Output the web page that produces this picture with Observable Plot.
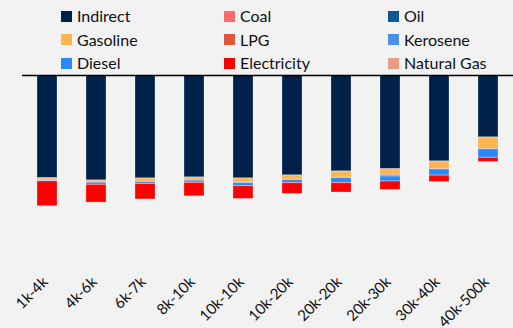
<!DOCTYPE html>
<html>
<head>
<meta charset="utf-8">
<script src="https://cdn.jsdelivr.net/npm/d3@7"></script>
<script src="https://cdn.jsdelivr.net/npm/@observablehq/plot@0.6"></script>
<style>
  html, body { margin: 0; padding: 0; background: #f2f2f2; }
  body { width: 513px; height: 328px; overflow: hidden; font-family: Lato, "Liberation Sans", sans-serif; }
  #legend { position: relative; height: 72px; }
  .item { position: absolute; display: flex; align-items: center; font-size: 16px; color: #111; line-height: 1; }
  .sw { width: 11px; height: 11px; margin-right: 5px; }
</style>
</head>
<body>
<div id="legend"></div>
<div id="chart"></div>
<script>
const categories = ["1k-4k", "4k-6k", "6k-7k", "8k-10k", "10k-10k", "10k-20k", "20k-20k", "20k-30k", "30k-40k", "40k-500k"];
const seriesNames = ["Indirect", "Coal", "Oil", "Gasoline", "LPG", "Kerosene", "Diesel", "Electricity", "Natural Gas"];
const seriesColors = ["#00214a", "#ff6b6b", "#0a5894", "#ffb44f", "#e0563a", "#4a8fe8", "#2a88f8", "#ff0000", "#ea9b86"];
const stackOrder = ["Indirect", "Coal", "Oil", "Gasoline", "LPG", "Kerosene", "Diesel", "Natural Gas", "Electricity"];

const indirect    = [102.7, 105.0, 103.0, 102.0, 103.0, 100.0, 96.0, 93.7, 86.0, 62.0];
const coal        = [0.3, 0.1, 0.1, 0.1, 0.1, 0.1, 0.1, 0.1, 0.1, 0.1];
const oil         = [0.2, 0.1, 0.1, 0.1, 0.1, 0.1, 0.1, 0.1, 0.1, 0.1];
const gasoline    = [1.3, 1.3, 3.0, 2.0, 3.7, 4.0, 6.0, 5.6, 7.3, 11.3];
const lpg         = [0.5, 0.5, 0.3, 0.5, 0.5, 0.4, 0.3, 1.4, 0.4, 0.3];
const kerosene    = [0.6, 0.3, 0.2, 1.2, 0.3, 0.2, 0.2, 0.2, 0.2, 0.2];
const diesel      = [0.2, 2.0, 1.8, 1.5, 2.9, 2.8, 4.9, 4.9, 6.0, 8.3];
const electricity = [24.7, 17.7, 15.3, 13.3, 12.7, 10.7, 9.3, 8.3, 6.3, 4.0];
const naturalGas  = [0.2, 0.1, 0.1, 0.1, 0.1, 0.1, 0.1, 0.1, 0.1, 0.1];

const seriesValues = {
  "Indirect": indirect, "Coal": coal, "Oil": oil, "Gasoline": gasoline, "LPG": lpg,
  "Kerosene": kerosene, "Diesel": diesel, "Electricity": electricity, "Natural Gas": naturalGas
};

const rows = [];
for (const s of stackOrder) {
  categories.forEach((c, i) => rows.push({category: c, series: s, value: seriesValues[s][i]}));
}

// legend
const legend = document.getElementById("legend");
const colX = [61, 224, 388];
seriesNames.forEach((s, i) => {
  const d = document.createElement("div");
  d.className = "item";
  d.style.left = colX[i % 3] + "px";
  d.style.top = (8 + Math.floor(i / 3) * 23.5) + "px";
  d.innerHTML = `<span class="sw" style="background:${seriesColors[i]}"></span><span>${s}</span>`;
  legend.appendChild(d);
});

const chart = Plot.plot({
  width: 513,
  height: 256,
  marginTop: 3,
  marginBottom: 60,
  marginLeft: 22,
  marginRight: 0,
  style: {background: "transparent", fontFamily: "Lato, 'Liberation Sans', sans-serif", fontSize: "15px", color: "#111"},
  x: {domain: categories, paddingInner: 0.59, paddingOuter: 0.305, label: null},
  y: {domain: [0, 193], reverse: true, axis: null},
  color: {domain: seriesNames, range: seriesColors},
  marks: [
    Plot.barY(rows, Plot.stackY({order: stackOrder}, {x: "category", y: "value", fill: "series", stroke: "#ffffff", strokeOpacity: 0.25, strokeWidth: 1})),
    Plot.ruleY([0], {stroke: "#000", strokeWidth: 1.5}),
    Plot.axisX({tickSize: 0, tickRotate: -45, tickPadding: 9, dx: -2, dy: 2, label: null, fontSize: 15})
  ]
});
document.getElementById("chart").appendChild(chart);
</script>
</body>
</html>
